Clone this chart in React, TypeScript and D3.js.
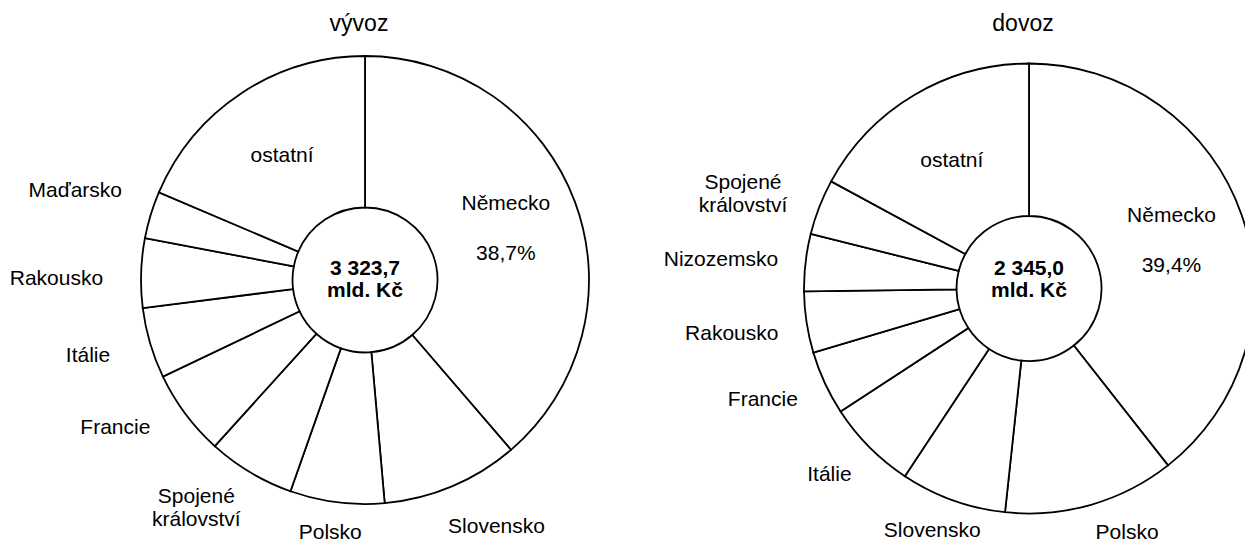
import React, { useEffect, useRef } from 'react';
import * as d3 from 'd3';

// podíly zemí na vývozu / dovozu (%)
const vyvozCountries = ['Německo', 'Slovensko', 'Polsko', 'Spojené království', 'Francie', 'Itálie', 'Rakousko', 'Maďarsko', 'ostatní'];
const vyvozShares = [38.7, 9.9, 6.8, 6.3, 6.2, 5.1, 5.0, 3.4, 18.6];

const dovozCountries = ['Německo', 'Polsko', 'Slovensko', 'Itálie', 'Francie', 'Rakousko', 'Nizozemsko', 'Spojené království', 'ostatní'];
const dovozShares = [39.4, 12.3, 7.6, 6.5, 4.6, 4.4, 4.1, 4.0, 17.1];

const titles = ['vývoz', 'dovoz'];
const totals = ['3 323,7', '2 345,0'];
const unit = 'mld. Kč';

// names drawn inside their slice (the first one also gets its share)
const insideNames = ['Německo', 'ostatní'];

// small hand nudges for the outside labels, same order as the countries
const vyvozNudge: [number, number][] = [[0, 0], [14, 4], [1, -8], [-16, -8], [-18, -10], [-12, 1], [-8, 6], [-2, -14], [0, 0]];
const dovozNudge: [number, number][] = [[0, 0], [19, -10], [6, -6], [-3, 0], [-3, 0], [1, 4], [2, 0], [-7, 4], [0, 0]];

interface Slice {
    name: string;
    share: number;
    nudge: [number, number];
}

const W = 1245;
const H = 544;
const FONT = '"Liberation Sans", Arial, Helvetica, sans-serif';

const App: React.FC = () => {
    const svgRef = useRef<SVGSVGElement | null>(null);

    useEffect(() => {
        document.body.style.margin = '0';
        if (svgRef.current) drawChart();
    }, []);

    const drawChart = () => {
        const svg = d3.select(svgRef.current);
        svg.selectAll('*').remove();

        const pies = [
            { names: vyvozCountries, shares: vyvozShares, nudge: vyvozNudge, cx: 365, cy: 280, r: 224 },
            { names: dovozCountries, shares: dovozShares, nudge: dovozNudge, cx: 1029, cy: 288.5, r: 225 },
        ];
        const innerR = 72.5;
        const gap = 30;
        const lineH = 22.6;
        const fmt = (v: number) => d3.format('.1f')(v).replace('.', ',') + '%';

        pies.forEach((p, k) => {
            const data: Slice[] = p.names.map((name, i) => ({ name, share: p.shares[i], nudge: p.nudge[i] }));
            const arcs = d3.pie<Slice>().sort(null).value((d) => d.share)(data);
            const arc = d3.arc<d3.PieArcDatum<Slice>>().innerRadius(innerR).outerRadius(p.r);

            const g = svg.append('g').attr('transform', `translate(${p.cx},${p.cy})`);

            g.selectAll('path.slice')
                .data(arcs)
                .enter()
                .append('path')
                .attr('class', 'slice')
                .attr('d', arc)
                .attr('fill', '#fff')
                .attr('stroke', '#000')
                .attr('stroke-width', 1.8);

            // title
            svg.append('text')
                .attr('x', p.cx - 6)
                .attr('y', 31)
                .attr('text-anchor', 'middle')
                .style('font-family', FONT)
                .style('font-size', '23px')
                .text(titles[k]);

            // total in the hole
            [totals[k], unit].forEach((t, j) => {
                svg.append('text')
                    .attr('x', p.cx)
                    .attr('y', 275 + j * 22)
                    .attr('text-anchor', 'middle')
                    .style('font-family', FONT)
                    .style('font-size', '21px')
                    .style('font-weight', 'bold')
                    .text(t);
            });

            const midR = (innerR + p.r) / 2 + 2;
            const labelArc = d3.arc<d3.PieArcDatum<Slice>>().innerRadius(midR).outerRadius(midR);

            arcs.forEach((d, i) => {
                const name = d.data.name;
                if (insideNames.includes(name)) {
                    const [x, y] = labelArc.centroid(d);
                    const lines = i === 0 ? [name, fmt(d.data.share)] : [name];
                    lines.forEach((t, j) => {
                        g.append('text')
                            .attr('x', x)
                            .attr('y', y - (lines.length - 1) * 25 + j * 50 + 7.5)
                            .attr('text-anchor', 'middle')
                            .style('font-family', FONT)
                            .style('font-size', '21px')
                            .text(t);
                    });
                    return;
                }

                const a = (d.startAngle + d.endAngle) / 2;
                const ux = Math.sin(a);
                const uy = -Math.cos(a);
                const words = name.split(' ');
                const txt = g.append('text')
                    .attr('text-anchor', 'middle')
                    .style('font-family', FONT)
                    .style('font-size', '21px');
                words.forEach((w) => txt.append('tspan').text(w));
                const node = txt.node() as SVGTextElement;
                const bw = d3.max(words.map((_, j) => (node.children[j] as SVGTSpanElement).getComputedTextLength())) || 0;
                const halfH = ((words.length - 1) * lineH) / 2 + 8;
                const x = ux * (p.r + gap) + (ux * bw) / 2 + d.data.nudge[0];
                const y = uy * (p.r + gap) + uy * halfH + d.data.nudge[1];
                txt.selectAll('tspan')
                    .attr('x', x)
                    .attr('y', (_, j) => y - ((words.length - 1) * lineH) / 2 + j * lineH + 7.5);
            });
        });
    };

    return <svg ref={svgRef} width={W} height={H} style={{ display: 'block', background: '#fff' }}></svg>;
};

export default App;
